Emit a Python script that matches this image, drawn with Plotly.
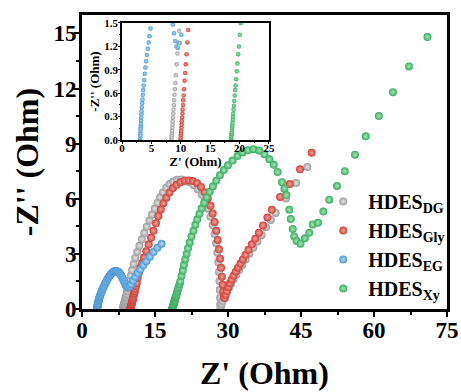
import plotly.graph_objects as go

# Nyquist data, Z' (Ohm) vs -Z'' (Ohm)
dg_x = [8.40, 8.43, 8.46, 8.48, 8.51, 8.55, 8.59, 8.62, 8.67, 8.72, 8.76, 8.82, 8.87, 8.94, 9.00, 9.08,
        9.17, 9.30, 9.43, 9.56, 9.70,
        9.85, 10.05, 10.30, 10.60, 10.95, 11.35, 11.80, 12.30, 12.80, 13.30, 13.85, 14.40, 14.95, 15.50,
        16.05, 16.65, 17.30, 18.00, 18.75, 19.55, 20.40, 21.25, 22.10, 22.95, 23.80, 24.60, 25.30, 25.90,
        26.40, 26.85, 27.25, 27.55, 27.80, 28.00, 28.15, 28.25, 28.32, 28.37, 28.40,
        28.45, 28.55, 28.70, 28.90, 29.15, 29.45, 29.80, 30.20, 30.65, 31.15, 31.70, 32.30, 32.95, 33.65,
        34.40, 35.20, 36.05, 36.90, 37.80, 38.80, 39.80, 41.90, 44.00, 46.30]
dg_y = [0.00, 0.03, 0.06, 0.09, 0.12, 0.16, 0.20, 0.24, 0.29, 0.34, 0.39, 0.45, 0.51, 0.58, 0.65, 0.73,
        0.83, 0.97, 1.11, 1.25, 1.40,
        1.58, 1.82, 2.12, 2.45, 2.78, 3.10, 3.44, 3.80, 4.14, 4.48, 4.82, 5.14, 5.46, 5.78,
        6.08, 6.36, 6.60, 6.80, 6.94, 7.03, 7.05, 7.00, 6.90, 6.74, 6.52, 6.22, 5.86, 5.46,
        5.02, 4.56, 4.08, 3.58, 3.06, 2.54, 2.02, 1.52, 1.04, 0.60, 0.25,
        0.05, 0.15, 0.28, 0.43, 0.60, 0.78, 0.97, 1.17, 1.39, 1.62, 1.86, 2.12, 2.40, 2.70,
        3.01, 3.34, 3.68, 4.02, 4.45, 4.85, 5.22, 6.02, 6.86, 7.73]

gly_x = [9.95, 9.98, 10.01, 10.03, 10.06, 10.10, 10.14, 10.17, 10.22, 10.27, 10.31, 10.37, 10.42, 10.48,
         10.55, 10.66, 10.75, 10.85, 10.97, 11.11, 11.26,
         11.45, 11.70, 12.00, 12.35, 12.75, 13.20, 13.70, 14.20, 14.70, 15.20, 15.70, 16.20, 16.75, 17.35,
         18.00, 18.70, 19.45, 20.25, 21.10, 21.95, 22.80, 23.65, 24.45, 25.20, 25.85, 26.40, 26.85, 27.25,
         27.60, 27.90, 28.15, 28.38, 28.58, 28.75, 28.90, 29.03, 29.18,
         29.35, 29.55, 29.80, 30.10, 30.40, 30.75, 31.15, 31.60, 32.05, 32.55, 33.05, 33.60, 34.20, 34.90,
         35.60, 36.35, 37.20, 38.10, 39.00, 40.70, 42.70, 44.80, 47.20]
gly_y = [0.00, 0.03, 0.06, 0.09, 0.12, 0.16, 0.20, 0.24, 0.29, 0.34, 0.39, 0.45, 0.51, 0.57,
         0.65, 0.76, 0.86, 0.97, 1.10, 1.25, 1.41,
         1.70, 1.98, 2.24, 2.50, 2.80, 3.14, 3.52, 3.88, 4.26, 4.66, 5.06, 5.42, 5.76, 6.06,
         6.34, 6.58, 6.76, 6.90, 6.98, 7.00, 6.96, 6.84, 6.64, 6.36, 6.02, 5.62, 5.20, 4.74,
         4.26, 3.76, 3.25, 2.74, 2.24, 1.76, 1.32, 0.95, 0.68,
         0.60, 0.78, 0.98, 1.20, 1.40, 1.60, 1.82, 2.04, 2.25, 2.47, 2.70, 2.95, 3.22, 3.52,
         3.82, 4.15, 4.55, 4.98, 5.40, 6.10, 6.80, 7.60, 8.50]

eg_x = [3.10, 3.11, 3.12, 3.13, 3.15, 3.17, 3.19, 3.21, 3.24, 3.27, 3.30, 3.34, 3.38, 3.43, 3.48, 3.54,
        3.60, 3.68, 3.77, 3.87, 3.98, 4.10, 4.24, 4.40, 4.54, 4.68, 4.85,
        5.05, 5.25, 5.45, 5.65, 5.85, 6.05, 6.25, 6.45, 6.65, 6.85, 7.05, 7.25, 7.45, 7.65, 7.85, 8.05,
        8.25, 8.45, 8.65, 8.85, 9.05, 9.25,
        9.50, 9.80, 10.10, 10.50, 10.95, 11.45, 12.00, 12.60, 13.25, 13.95, 14.70, 15.50, 16.35]
eg_y = [0.00, 0.03, 0.06, 0.09, 0.12, 0.15, 0.18, 0.21, 0.25, 0.29, 0.33, 0.37, 0.42, 0.47, 0.52, 0.58,
        0.64, 0.70, 0.77, 0.85, 0.93, 1.01, 1.09, 1.17, 1.25, 1.33, 1.43,
        1.53, 1.63, 1.72, 1.80, 1.87, 1.93, 1.98, 2.02, 2.05, 2.07, 2.07, 2.05, 2.02, 1.97, 1.90, 1.81,
        1.71, 1.60, 1.48, 1.37, 1.27, 1.20,
        1.18, 1.24, 1.35, 1.55, 1.75, 1.95, 2.15, 2.38, 2.60, 2.85, 3.10, 3.33, 3.55]

xy_x = [18.55, 18.57, 18.59, 18.62, 18.64, 18.66, 18.69, 18.73, 18.76, 18.79, 18.84, 18.88, 18.92,
        18.98, 19.03, 19.10, 19.18, 19.25, 19.32, 19.41, 19.52, 19.63, 19.76, 19.87, 20.04, 20.20,
        20.45, 20.70, 20.95, 21.20, 21.50, 21.80, 22.15, 22.50, 22.90, 23.30, 23.70, 24.15, 24.60, 25.10,
        25.65, 26.25, 26.90, 27.60, 28.35, 29.15, 30.00, 30.95, 31.95, 33.00, 34.10, 35.25, 36.40, 37.50,
        38.50, 39.40, 40.20, 41.10, 41.60, 42.00, 42.60, 42.90, 43.30, 43.60, 44.10, 44.90, 45.80, 46.70,
        47.40, 48.50, 49.60, 50.80, 52.40, 54.00, 56.10, 58.30, 61.00, 63.90, 67.20, 71.00]
xy_y = [0.00, 0.02, 0.04, 0.06, 0.08, 0.10, 0.13, 0.16, 0.19, 0.22, 0.26, 0.30, 0.34,
        0.39, 0.44, 0.50, 0.57, 0.64, 0.70, 0.78, 0.88, 0.98, 1.10, 1.20, 1.35, 1.50,
        1.80, 2.10, 2.40, 2.70, 3.00, 3.30, 3.62, 3.94, 4.26, 4.58, 4.88, 5.18, 5.48, 5.78,
        6.08, 6.38, 6.68, 6.98, 7.28, 7.56, 7.82, 8.08, 8.32, 8.52, 8.64, 8.70, 8.62, 8.42,
        8.15, 7.85, 7.45, 6.90, 6.55, 6.20, 5.40, 4.90, 4.35, 3.95, 3.70, 3.55, 3.85, 4.15,
        4.60, 4.70, 5.30, 5.95, 6.70, 7.50, 8.40, 9.40, 10.50, 11.80, 13.20, 14.80]

series_names = ["\u00a0HDES<sub>DG</sub>", "\u00a0HDES<sub>Gly</sub>",
                "\u00a0HDES<sub>EG</sub>", "\u00a0HDES<sub>Xy</sub>"]

main_xticks = [0, 15, 30, 45, 60, 75]
main_yticks = [0, 3, 6, 9, 12, 15]
inset_xticks = [0, 5, 10, 15, 20, 25]
inset_yticks = [0.0, 0.3, 0.6, 0.9, 1.2, 1.5]

# ball-like markers: edge colour plus a lighter centre
styles = [("#9c9c9c", "#e6e6e6"), ("#cf3f36", "#f4a49b"),
          ("#4a98d8", "#b4dbf7"), ("#38ae60", "#a6e5ba")]
series = [(dg_x, dg_y), (gly_x, gly_y), (eg_x, eg_y), (xy_x, xy_y)]

FONT = "Liberation Serif, Times New Roman, serif"

fig = go.Figure()
for (xs, ys), name, (col, hi) in zip(series, series_names, styles):
    fig.add_trace(go.Scatter(
        x=xs, y=ys, mode="markers", name=name,
        marker=dict(size=8, color=col, gradient=dict(type="radial", color=hi), line=dict(width=0)),
        xaxis="x", yaxis="y"))
for (xs, ys), name, (col, hi) in zip(series, series_names, styles):
    fig.add_trace(go.Scatter(
        x=xs, y=ys, mode="markers", name=name, showlegend=False,
        marker=dict(size=4.5, color=col, gradient=dict(type="radial", color=hi), line=dict(width=0)),
        xaxis="x2", yaxis="y2", cliponaxis=True))

main_axis = dict(
    showgrid=False, zeroline=False, showline=True, linecolor="black", linewidth=3, mirror=True,
    ticks="outside", ticklen=5, tickwidth=2, tickcolor="black", automargin=False,
    tickfont=dict(family=FONT, size=23, color="black", weight="bold"),
)
inset_axis = dict(
    showgrid=False, zeroline=False, showline=True, linecolor="black", linewidth=1.5, mirror=True,
    ticks="outside", ticklen=2, tickwidth=1.2, tickcolor="black", automargin=False,
    tickfont=dict(family=FONT, size=11, color="black", weight="bold"),
)
title_font = dict(family=FONT, size=32, color="black", weight="bold")
inset_title_font = dict(family=FONT, size=13, color="black", weight="bold")

fig.update_layout(
    width=461, height=392,
    margin=dict(l=82, r=14, t=15, b=83, autoexpand=False),
    paper_bgcolor="white", plot_bgcolor="white",
    showlegend=True,
    legend=dict(x=0.661, y=0.432, xanchor="left", yanchor="top",
                bgcolor="rgba(0,0,0,0)", borderwidth=0, tracegroupgap=0,
                font=dict(family=FONT, size=20, color="black", weight="bold")),
    xaxis=dict(main_axis, range=[0, 75], tickvals=main_xticks, domain=[0, 1], anchor="y",
               ticklabelstandoff=-7,
               minor=dict(ticks="outside", ticklen=3, tickwidth=1.5, dtick=7.5, tickcolor="black")),
    yaxis=dict(main_axis, range=[0, 16], tickvals=main_yticks, domain=[0, 1], anchor="x",
               ticklabelstandoff=-7,
               minor=dict(ticks="outside", ticklen=3, tickwidth=1.5, dtick=1.5, tickcolor="black")),
    xaxis2=dict(inset_axis, range=[0, 25], tickvals=inset_xticks, domain=[0.1096, 0.5123], anchor="y2",
                ticklabelstandoff=-5,
                minor=dict(ticks="outside", ticklen=1.5, tickwidth=1, dtick=2.5, tickcolor="black"),
                title=dict(text="Z' (Ohm)", standoff=0, font=inset_title_font)),
    yaxis2=dict(inset_axis, range=[0, 1.5], tickvals=inset_yticks, tickformat=".1f",
                domain=[0.5748, 0.9728], anchor="x2", ticklabelstandoff=-2,
                minor=dict(ticks="outside", ticklen=1.5, tickwidth=1, dtick=0.15, tickcolor="black"),
                title=dict(text="-Z'' (Ohm)", standoff=2, font=inset_title_font)),
    annotations=[
        dict(text="Z' (Ohm)", xref="paper", yref="paper", x=0.5, y=-0.218,
             xanchor="center", yanchor="middle", showarrow=False, font=title_font),
        dict(text="-Z'' (Ohm)", xref="paper", yref="paper", x=-0.15, y=0.5, textangle=-90,
             xanchor="center", yanchor="middle", showarrow=False, font=title_font),
    ],
)

fig.write_html("out.html")
